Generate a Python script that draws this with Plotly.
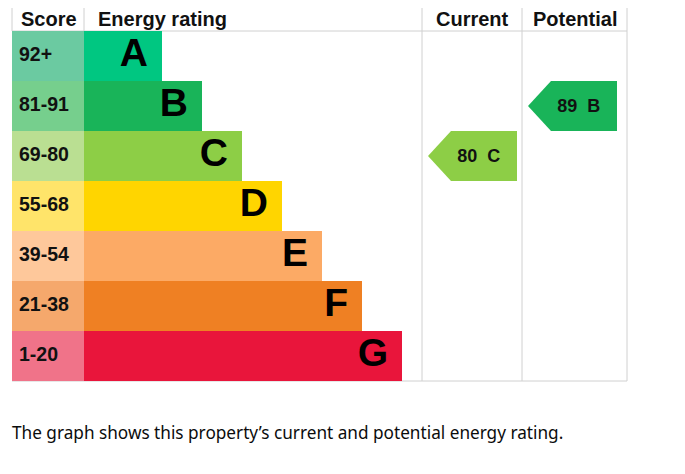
import plotly.graph_objects as go

# bandas EPC
bands = ["A", "B", "C", "D", "E", "F", "G"]
score_ranges = ["92+", "81-91", "69-80", "55-68", "39-54", "21-38", "1-20"]
band_min = [92, 81, 69, 55, 39, 21, 1]
bar_colors = ["#00c781", "#19b459", "#8dce46", "#ffd500", "#fcaa65", "#ef8023", "#e9153b"]
score_colors = ["#6bcaa1", "#76cf8d", "#badf92", "#ffe46a", "#fec89b", "#f5a86c", "#f07389"]

current_score = 80
potential_score = 89

# geometria (em pixels da imagem); a página tem margem de 8px
W, H = 685, 474
PAGE_OFF = 8
LEFT, RIGHT = 12, 627
HEAD_TOP, HEAD_BOT = 6, 31
ROW_H = 50
SCORE_W = 72
BAR_X0 = LEFT + SCORE_W
COL_CUR = (422, 522)
COL_POT = (522, 627)
ARROW_W = 89

row_y = [HEAD_BOT + ROW_H * (i + 0.5) for i in range(len(bands))]
bar_len = [78 + 40 * i for i in range(len(bands))]


def band_of(score):
    for i, m in enumerate(band_min):
        if score >= m:
            return i
    return len(bands) - 1


fig = go.Figure()

# coluna de pontuação
fig.add_trace(go.Bar(
    y=row_y, x=[SCORE_W] * len(bands), base=LEFT, orientation="h", width=ROW_H,
    marker=dict(color=score_colors, line=dict(width=0)), hoverinfo="skip",
))
# barras das classes
fig.add_trace(go.Bar(
    y=row_y, x=bar_len, base=BAR_X0, orientation="h", width=ROW_H,
    marker=dict(color=bar_colors, line=dict(width=0)), hoverinfo="skip",
))
fig.add_trace(go.Scatter(
    x=[LEFT + 7] * len(bands), y=row_y, mode="text", text=score_ranges,
    textposition="middle right", hoverinfo="skip",
    textfont=dict(family="Liberation Sans, Arial", size=19.5, color="#111", weight="bold"),
))
fig.add_trace(go.Scatter(
    x=[BAR_X0 + L - 14 for L in bar_len], y=row_y, mode="text", text=bands,
    textposition="middle left", hoverinfo="skip",
    textfont=dict(family="Liberation Sans, Arial", size=39, color="#000", weight="bold"),
))


def add_arrow(score, col):
    i = band_of(score)
    x0 = col[0] + 6
    x1 = x0 + ARROW_W
    y0, y1 = HEAD_BOT + ROW_H * i, HEAD_BOT + ROW_H * (i + 1)
    ym = (y0 + y1) / 2
    fig.add_trace(go.Scatter(
        x=[x0, x0 + 23, x1, x1, x0 + 23, x0], y=[ym, y0, y0, y1, y1, ym],
        mode="lines", fill="toself", fillcolor=bar_colors[i],
        line=dict(width=0, color=bar_colors[i]), hoverinfo="skip",
    ))
    fig.add_trace(go.Scatter(
        x=[x0 + 0.57 * (x1 - x0)], y=[ym + 1], mode="text",
        text=[f"{score}\u00a0\u00a0{bands[i]}"], textposition="middle center",
        hoverinfo="skip",
        textfont=dict(family="Liberation Sans, Arial", size=18, color="#111", weight="bold"),
    ))


add_arrow(current_score, COL_CUR)
add_arrow(potential_score, COL_POT)

grid = dict(color="#d0d0d0", width=1)
bottom = HEAD_BOT + ROW_H * len(bands)
shapes = [
    dict(type="line", x0=LEFT, x1=RIGHT, y0=HEAD_TOP, y1=HEAD_TOP, line=grid),
    dict(type="line", x0=LEFT, x1=RIGHT, y0=HEAD_BOT, y1=HEAD_BOT, line=grid),
    dict(type="line", x0=LEFT, x1=LEFT, y0=HEAD_TOP, y1=HEAD_BOT, line=grid),
    dict(type="line", x0=BAR_X0, x1=BAR_X0, y0=HEAD_TOP, y1=HEAD_BOT, line=grid),
    dict(type="line", x0=COL_CUR[0], x1=COL_CUR[0], y0=HEAD_TOP, y1=bottom, line=grid),
    dict(type="line", x0=COL_POT[0], x1=COL_POT[0], y0=HEAD_TOP, y1=bottom, line=grid),
    dict(type="line", x0=RIGHT, x1=RIGHT, y0=HEAD_TOP, y1=bottom, line=grid),
    dict(type="line", x0=LEFT, x1=RIGHT, y0=bottom, y1=bottom, line=grid),
]
for s in shapes:
    s["layer"] = "below"

head_font = dict(family="Liberation Sans, Arial", size=20, color="#111", weight="bold")
hy = (HEAD_TOP + HEAD_BOT) / 2
annotations = [
    dict(x=LEFT + 7, y=hy, text="Score", xanchor="left", font=head_font),
    dict(x=BAR_X0 + 12, y=hy, text="Energy rating", xanchor="left", font=head_font),
    dict(x=sum(COL_CUR) / 2, y=hy, text="Current", xanchor="center", font=head_font),
    dict(x=sum(COL_POT) / 2, y=hy, text="Potential", xanchor="center", font=head_font),
    dict(x=LEFT - 2, y=432, xanchor="left",
         text="The graph shows this property\u2019s current and potential energy rating.",
         font=dict(family="Noto Sans", size=17.2, color="#0b0c0c")),
]
for a in annotations:
    a.update(xref="x", yref="y", showarrow=False, yanchor="middle")

fig_w, fig_h = W - 2 * PAGE_OFF, H - 2 * PAGE_OFF
fig.update_layout(
    width=fig_w, height=fig_h, margin=dict(l=0, r=0, t=0, b=0),
    paper_bgcolor="white", plot_bgcolor="white", showlegend=False,
    barmode="overlay",
    xaxis=dict(range=[PAGE_OFF, PAGE_OFF + fig_w], visible=False, fixedrange=True),
    yaxis=dict(range=[PAGE_OFF + fig_h, PAGE_OFF], visible=False, fixedrange=True),
    shapes=shapes, annotations=annotations,
)

fig.write_html("out.html")
